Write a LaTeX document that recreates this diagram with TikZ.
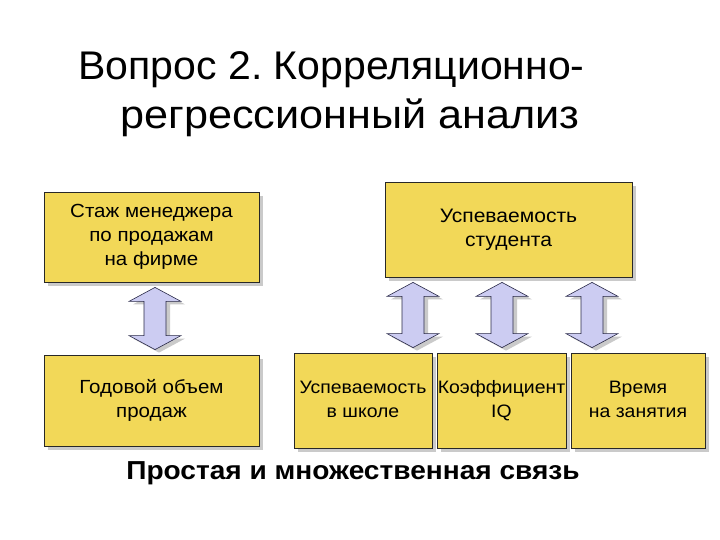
\documentclass[tikz,border=0pt]{standalone}
\usepackage{fontspec}
\usepackage{graphicx}
\setmainfont{Liberation Sans}
\usetikzlibrary{calc, shadows}
\frenchspacing

\definecolor{boxfill}{RGB}{242,216,88}
\definecolor{boxline}{RGB}{40,40,40}
\definecolor{arrfill}{RGB}{204,204,242}
\definecolor{arrline}{RGB}{40,40,70}

% text is a little wider than Liberation Sans
\newcommand{\wide}[2][1.08]{\scalebox{#1}[1]{\begin{tabular}{@{}c@{}}#2\end{tabular}}}

% double arrow between two boxes at a given x (in pt)
\newcommand{\bothways}[3]{%
  \draw[arrbody] let \p1=(#2.south), \p2=(#3.north) in
    (#1pt, \y1-5pt) -- (#1pt+26pt, \y1-19pt) -- (#1pt+11pt, \y1-19pt)
    -- (#1pt+11pt, \y2+19pt) -- (#1pt+26pt, \y2+19pt) -- (#1pt, \y2+5pt)
    -- (#1pt-26pt, \y2+19pt) -- (#1pt-11pt, \y2+19pt)
    -- (#1pt-11pt, \y1-19pt) -- (#1pt-26pt, \y1-19pt) -- cycle;}

\begin{document}
\begin{tikzpicture}[x=1pt, y=-1pt,
    factor/.style={draw=boxline, fill=boxfill, line width=0.8pt, align=center,
      inner sep=0pt, font=\fontsize{19}{24}\selectfont,
      drop shadow={shadow xshift=4pt, shadow yshift=-4pt, fill=gray!70, opacity=0.6}},
    arrbody/.style={draw=arrline, fill=arrfill, line width=0.6pt, line join=miter,
      drop shadow={shadow xshift=4pt, shadow yshift=-3pt, fill=gray!70, opacity=0.6}}]
  \useasboundingbox (0,0) rectangle (720,540);

  % title
  \node[anchor=base, font=\fontsize{40}{47}\selectfont] (title1) at (331.5,76)
    {\wide[1.025]{Вопрос 2. Корреляционно-}};
  \node[anchor=base, font=\fontsize{40}{47}\selectfont] (title2) at (350,125)
    {\wide{регрессионный анализ}};

  % simple link
  \node[factor, minimum width=215, minimum height=90] (stazh) at (151.5,237)
    {\wide{Стаж менеджера\\по продажам\\на фирме}};
  \node[factor, minimum width=215, minimum height=91] (obem) at (151.5,400.5)
    {\wide{Годовой объем\\продаж}};

  % multiple link
  \node[factor, minimum width=247, minimum height=95, font=\fontsize{19.5}{24}\selectfont]
    (uspev) at (508.5,229.5) {\wide{Успеваемость\\студента}};
  \node[factor, minimum width=138, minimum height=95, font=\fontsize{18}{24}\selectfont]
    (shkola) at (363,400.5) {\wide{Успеваемость\\в школе}};
  \node[factor, minimum width=129, minimum height=95, font=\fontsize{18}{24}\selectfont]
    (iq) at (501.5,400.5) {\wide{Коэффициент\\IQ}};
  \node[factor, minimum width=134, minimum height=95, font=\fontsize{18}{24}\selectfont]
    (vremya) at (638,400.5) {\wide{Время\\на занятия}};

  \bothways{155}{stazh}{obem}
  \bothways{413}{uspev}{shkola}
  \bothways{502}{uspev}{iq}
  \bothways{592}{uspev}{vremya}

  \node[anchor=base, font=\fontsize{26}{30}\selectfont\bfseries] (caption) at (353,480)
    {\wide{Простая и множественная связь}};
\end{tikzpicture}
\end{document}
